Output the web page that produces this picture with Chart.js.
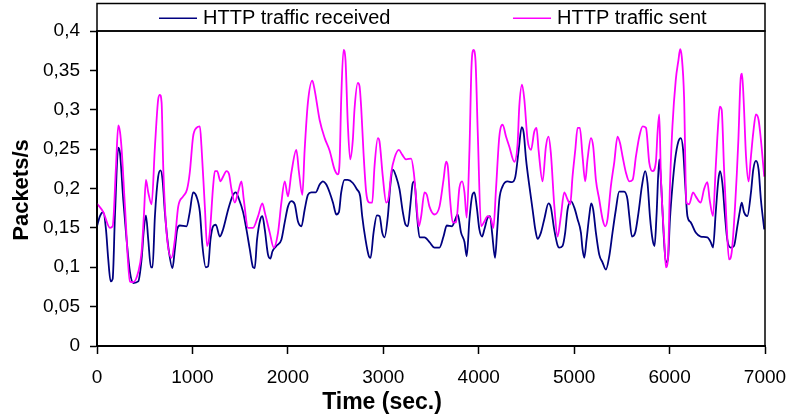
<!DOCTYPE html>
<html>
<head>
<meta charset="utf-8">
<script src="https://cdn.jsdelivr.net/npm/chart.js@4/dist/chart.umd.min.js"></script>
<style>
  html, body { margin: 0; padding: 0; background: #fff; }
  #wrap { width: 788px; height: 416px; }
</style>
</head>
<body>
<div id="wrap"><canvas id="c" width="788" height="416"></canvas></div>
<script>
const seriesLabels = ['HTTP traffic received', 'HTTP traffic sent'];
const xTitle = 'Time (sec.)';
const yTitle = 'Packets/s';

const sentTime = [0,66,136,164,199,223,241,258,293,345,380,432,467,491,513,537,572,607,641,659,677,694,729,781,816,851,903,944,972,1007,1042,1078,1095,1130,1154,1182,1217,1235,1259,1294,1321,1357,1384,1409,1444,1478,1514,1538,1583,1635,1688,1733,1758,1810,1852,1897,1932,1967,2001,2037,2089,2117,2152,2176,2210,2256,2281,2333,2386,2438,2490,2524,2542,2559,2583,2604,2628,2653,2681,2698,2733,2751,2768,2793,2821,2856,2884,2908,2943,2960,2995,3031,3058,3083,3118,3163,3198,3240,3292,3320,3345,3372,3397,3432,3456,3484,3537,3589,3631,3658,3676,3700,3728,3763,3798,3826,3851,3874,3903,3924,3945,3966,3990,4025,4059,4094,4129,4154,4181,4216,4251,4286,4321,4373,4408,4425,4454,4478,4512,4548,4582,4606,4627,4669,4704,4731,4756,4791,4826,4861,4896,4931,4959,4983,5012,5036,5060,5088,5116,5140,5176,5200,5228,5263,5298,5326,5350,5385,5420,5455,5480,5507,5543,5578,5613,5648,5683,5718,5753,5787,5822,5857,5874,5892,5909,5944,5962,5983,6004,6030,6065,6093,6111,6128,6152,6176,6205,6246,6274,6326,6361,6396,6420,6455,6484,6508,6526,6546,6570,6595,6623,6651,6686,6721,6742,6759,6776,6801,6828,6853,6877,6905,6933,6957,6992];
const sentValues = [0.181,0.170,0.150,0.152,0.228,0.280,0.272,0.250,0.177,0.082,0.081,0.094,0.119,0.165,0.211,0.195,0.180,0.253,0.313,0.319,0.309,0.228,0.144,0.112,0.135,0.177,0.190,0.199,0.220,0.266,0.277,0.279,0.253,0.177,0.127,0.144,0.203,0.222,0.222,0.209,0.215,0.222,0.218,0.199,0.182,0.195,0.209,0.186,0.150,0.150,0.165,0.181,0.170,0.144,0.125,0.144,0.182,0.209,0.190,0.220,0.249,0.220,0.192,0.249,0.309,0.337,0.325,0.287,0.264,0.248,0.224,0.218,0.233,0.313,0.376,0.363,0.283,0.237,0.262,0.300,0.334,0.330,0.304,0.245,0.195,0.182,0.182,0.228,0.264,0.260,0.215,0.182,0.190,0.220,0.239,0.249,0.243,0.237,0.238,0.220,0.186,0.152,0.165,0.195,0.192,0.177,0.167,0.177,0.211,0.234,0.228,0.186,0.157,0.157,0.201,0.209,0.195,0.163,0.249,0.354,0.376,0.363,0.271,0.152,0.158,0.165,0.161,0.150,0.199,0.266,0.281,0.266,0.253,0.234,0.258,0.304,0.332,0.313,0.262,0.249,0.272,0.277,0.249,0.209,0.253,0.266,0.245,0.180,0.139,0.165,0.195,0.186,0.180,0.215,0.249,0.277,0.277,0.241,0.209,0.237,0.264,0.253,0.211,0.186,0.161,0.152,0.161,0.203,0.233,0.266,0.258,0.241,0.220,0.209,0.211,0.241,0.266,0.279,0.277,0.233,0.222,0.234,0.271,0.294,0.215,0.135,0.100,0.110,0.203,0.279,0.338,0.363,0.377,0.367,0.316,0.182,0.180,0.195,0.190,0.182,0.199,0.208,0.186,0.165,0.228,0.279,0.304,0.300,0.228,0.161,0.110,0.119,0.177,0.262,0.334,0.346,0.313,0.241,0.209,0.241,0.271,0.294,0.287,0.262,0.215];

const recvTime = [0,31,66,94,118,143,164,188,223,241,275,310,345,380,432,467,491,513,537,565,582,607,641,666,687,711,746,791,816,840,868,938,972,1007,1042,1078,1105,1140,1164,1189,1217,1245,1287,1321,1374,1419,1454,1489,1531,1566,1601,1635,1653,1677,1712,1733,1758,1792,1817,1838,1880,1932,1967,2001,2037,2072,2106,2142,2176,2210,2246,2291,2333,2368,2403,2438,2473,2508,2535,2559,2594,2628,2681,2723,2758,2779,2814,2849,2867,2898,2933,2961,2989,3013,3048,3073,3100,3135,3170,3205,3233,3257,3282,3309,3327,3351,3380,3432,3484,3537,3589,3631,3665,3721,3746,3780,3815,3851,3874,3903,3930,3955,3979,4007,4035,4059,4094,4119,4140,4171,4192,4216,4251,4303,4349,4384,4419,4450,4471,4496,4531,4565,4593,4617,4652,4687,4731,4756,4791,4826,4843,4878,4906,4931,4966,5001,5036,5071,5088,5106,5130,5158,5179,5200,5228,5263,5298,5333,5368,5402,5437,5472,5524,5559,5578,5606,5640,5675,5710,5744,5769,5794,5822,5843,5863,5892,5913,5937,5962,5983,6004,6030,6058,6093,6118,6142,6163,6187,6222,6274,6326,6396,6431,6455,6484,6511,6529,6553,6581,6605,6640,6675,6710,6735,6756,6780,6815,6853,6877,6905,6933,6957,6992];
const recvValues = [0.152,0.165,0.170,0.148,0.110,0.082,0.085,0.165,0.252,0.245,0.186,0.135,0.094,0.080,0.082,0.110,0.148,0.166,0.135,0.100,0.100,0.165,0.215,0.223,0.211,0.170,0.127,0.099,0.123,0.148,0.153,0.152,0.170,0.195,0.190,0.170,0.127,0.100,0.101,0.135,0.152,0.154,0.139,0.148,0.173,0.190,0.195,0.186,0.170,0.148,0.123,0.100,0.099,0.135,0.161,0.165,0.148,0.116,0.111,0.120,0.127,0.135,0.157,0.177,0.184,0.180,0.158,0.152,0.173,0.192,0.195,0.195,0.205,0.209,0.205,0.195,0.182,0.167,0.170,0.195,0.211,0.211,0.207,0.199,0.190,0.165,0.135,0.114,0.112,0.144,0.166,0.165,0.144,0.138,0.165,0.203,0.224,0.215,0.199,0.170,0.154,0.152,0.177,0.207,0.209,0.170,0.138,0.138,0.132,0.125,0.125,0.139,0.153,0.152,0.158,0.167,0.144,0.132,0.114,0.161,0.190,0.195,0.177,0.148,0.139,0.148,0.163,0.165,0.144,0.112,0.144,0.186,0.203,0.209,0.208,0.215,0.249,0.278,0.271,0.237,0.203,0.173,0.148,0.136,0.144,0.161,0.181,0.176,0.148,0.128,0.125,0.127,0.144,0.173,0.184,0.176,0.161,0.144,0.123,0.112,0.135,0.165,0.181,0.173,0.144,0.116,0.106,0.097,0.114,0.144,0.173,0.196,0.196,0.186,0.165,0.139,0.144,0.170,0.203,0.222,0.207,0.165,0.135,0.127,0.165,0.237,0.203,0.144,0.106,0.110,0.161,0.203,0.237,0.260,0.264,0.249,0.207,0.165,0.157,0.144,0.139,0.138,0.132,0.125,0.170,0.211,0.222,0.207,0.165,0.135,0.125,0.127,0.152,0.170,0.182,0.170,0.165,0.195,0.224,0.235,0.224,0.186,0.148];

const FONT = '"Liberation Sans", Arial, sans-serif';
const colors = ['#000080', '#FF00FF'];

const fmtY = v => String(Math.round(v * 100) / 100).replace('.', ',');
const fmtX = v => String(Math.round(v));

const framePlugin = {
  id: 'frame',
  afterDraw(chart) {
    const { ctx, chartArea: a } = chart;
    ctx.save();
    ctx.strokeStyle = '#000';
    ctx.lineWidth = 1.5;
    // plot frame
    ctx.strokeRect(a.left, a.top, a.right - a.left, a.bottom - a.top);
    // legend box
    const ly = 3.5;
    ctx.strokeRect(a.left, ly, a.right - a.left, a.top - ly);
    // legend items
    const starts = [a.left + 62, a.left + 416];
    const midY = (ly + a.top) / 2 + 1;
    ctx.font = '20px ' + FONT;
    ctx.textBaseline = 'middle';
    ctx.fillStyle = '#000';
    chart.data.datasets.forEach(ds => {
      const i = seriesLabels.indexOf(ds.label);
      const x0 = starts[i];
      ctx.strokeStyle = ds.borderColor;
      ctx.lineWidth = 1.5;
      ctx.beginPath();
      ctx.moveTo(x0, midY);
      ctx.lineTo(x0 + 38, midY);
      ctx.stroke();
      ctx.fillText(ds.label, x0 + 44, midY);
    });
    // axis titles
    ctx.fillStyle = '#000';
    ctx.font = 'bold 23px ' + FONT;
    ctx.textAlign = 'center';
    ctx.textBaseline = 'alphabetic';
    ctx.fillText(xTitle, 382, 409);
    ctx.translate(28, 190);
    ctx.rotate(-Math.PI / 2);
    ctx.font = 'bold 22px ' + FONT;
    ctx.fillText(yTitle, 0, 0);
    ctx.restore();
  }
};

const mk = (t, v) => t.map((x, i) => ({ x, y: v[i] }));
const noPad = s => { s.paddingLeft = 0; s.paddingRight = 0; s.paddingTop = 0; s.paddingBottom = 0; };

new Chart(document.getElementById('c'), {
  type: 'line',
  data: {
    datasets: [
      { label: seriesLabels[1], data: mk(sentTime, sentValues), borderColor: colors[1], backgroundColor: colors[1], borderWidth: 1.8, pointRadius: 0, cubicInterpolationMode: 'monotone', fill: false, order: 1 },
      { label: seriesLabels[0], data: mk(recvTime, recvValues), borderColor: colors[0], backgroundColor: colors[0], borderWidth: 1.8, pointRadius: 0, cubicInterpolationMode: 'monotone', fill: false, order: 2 }
    ]
  },
  options: {
    responsive: false,
    animation: false,
    layout: { padding: { top: 31, right: 23, left: 0, bottom: 0 } },
    plugins: { legend: { display: false }, tooltip: { enabled: false }, title: { display: false } },
    scales: {
      x: {
        type: 'linear', min: 0, max: 7000,
        ticks: { stepSize: 1000, color: '#000', font: { size: 19, family: FONT }, padding: 12, maxRotation: 0, autoSkip: false, callback: v => fmtX(v) },
        grid: { drawOnChartArea: false, drawTicks: true, tickLength: 8, tickColor: '#000', tickWidth: 1.5 },
        border: { display: true, color: '#000', width: 2 },
        afterFit(s) { s.height = 70; noPad(s); }
      },
      y: {
        min: 0, max: 0.4,
        ticks: { stepSize: 0.05, color: '#000', font: { size: 19, family: FONT }, padding: 10, callback: v => fmtY(v) },
        grid: { drawOnChartArea: false, drawTicks: true, tickLength: 7, tickColor: '#000', tickWidth: 1.5 },
        border: { display: true, color: '#000', width: 2 },
        afterFit(s) { s.width = 97; noPad(s); }
      }
    }
  },
  plugins: [framePlugin]
});
</script>
</body>
</html>
